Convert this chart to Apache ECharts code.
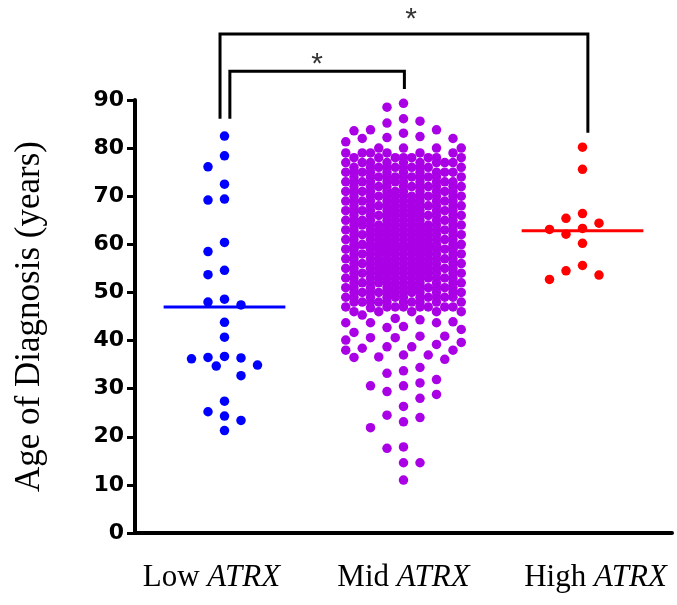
<!DOCTYPE html>
<html>
<head>
<meta charset="utf-8">
<title>Age of Diagnosis by ATRX level</title>
<script src="https://cdn.jsdelivr.net/npm/echarts@6/dist/echarts.min.js"></script>
<style>
html, body { margin: 0; padding: 0; background: #fff; }
#graph { width: 677px; height: 605px; }
</style>
</head>
<body>
<div id="graph"></div>
<script>
// groups on the x axis
const groups = ['Low', 'Mid', 'High'];
const groupColors = ['#0000ff', '#aa00e6', '#ff0000'];

// age of diagnosis (years)
const lowAges = [82.5, 78.4, 76.1, 72.5, 69.4, 69.2, 60.4, 58.5, 54.6, 53.7, 48.6, 48.0, 47.4,
  43.8, 40.7, 36.7, 36.5, 36.4, 36.2, 34.9, 34.7, 32.7, 27.4, 25.2, 24.3, 23.4, 21.3];
const highAges = [80.2, 75.6, 66.4, 65.4, 64.4, 63.3, 63.1, 62.1, 60.2, 55.6, 54.5, 53.6, 52.7];
// mid group, points that can be told apart (top and bottom of the cloud)
const midSparseAges = [89.3, 88.5, 86.1, 85.6, 85.2, 83.8, 83.8, 83.6, 83.1, 82.4, 82.2, 82.0, 82.0, 81.3,
  46.8, 45.3, 44.6, 44.3, 43.9, 43.7, 43.7, 43.7, 42.9, 42.7, 42.3, 41.7, 40.9, 40.9, 40.6, 40.6, 40.1,
  39.6, 39.2, 38.7, 38.7, 38.4, 38.0, 38.0, 37.0, 37.0, 36.6, 36.5, 36.1, 34.4, 33.7, 33.2, 31.9, 31.2,
  30.6, 30.6, 29.4, 28.8, 28.0, 26.3, 24.5, 24.0, 23.1, 21.9, 17.9, 17.6, 14.6, 14.6, 11.0];
// mid group, the solid block: number of patients per year of age
const midBlockAges = [46, 47, 48, 49, 50, 51, 52, 53, 54, 55, 56, 57, 58, 59, 60, 61, 62, 63,
  64, 65, 66, 67, 68, 69, 70, 71, 72, 73, 74, 75, 76, 77, 78, 79, 80];
const midBlockCounts = [5, 8, 10, 11, 12, 12, 12, 13, 13, 13, 13, 13, 13, 13, 13, 13, 13, 13,
  13, 12, 12, 12, 12, 12, 12, 11, 11, 11, 11, 10, 10, 9, 8, 6, 4];

// median lines as drawn in the figure
const medians = [47.0, 59.4, 62.8];

// significance brackets
const sigPairs = [[0, 1], [0, 2]];
const sigTops = [96.0, 103.7];
const sigStarY = [97.3, 106.6];
const sigStars = ['*', '*'];

const yMin = 0, yMax = 90, yStep = 10;

const grid = {left: 135, right: 5, top: 100, bottom: 72};

let midAges = midSparseAges.slice();
for (let i = 0; i < midBlockAges.length; i++) {
  for (let k = 0; k < midBlockCounts[i]; k++) midAges.push(midBlockAges[i]);
}
const groupAges = [lowAges, midAges, highAges];

var mychart = echarts.init(document.getElementById('graph'));
const bandPx = (mychart.getWidth() - grid.left - grid.right) / groups.length;
const yearPx = (mychart.getHeight() - grid.top - grid.bottom) / (yMax - yMin);
const slotPx = 16.5;     // distance between dot columns
const minDist = 14;      // dots closer than this (px) count as crowded

// simple beeswarm: from the top down, put each dot in the nearest free column
function swarm(values, maxSlot) {
  let tiers = [[0]];
  for (let s = 1; s <= maxSlot; s++) tiers.push([-s, s]);
  for (let s = 0.5; s <= maxSlot; s += 1) tiers.push([-s, s]);
  let all = [].concat(...tiers);
  let placed = [];
  let slots = new Array(values.length);
  let order = values.map((v, i) => i).sort((a, b) => values[b] - values[a]);
  function room(slot, v) {
    let best = Infinity;
    for (let p of placed) {
      let dx = (p[0] - slot) * slotPx, dy = (p[1] - v) * yearPx;
      let d = Math.sqrt(dx * dx + dy * dy);
      if (d < best) best = d;
    }
    return best;
  }
  for (let i of order) {
    let v = values[i], chosen = null;
    for (let t of tiers) {
      let bestSlot = null, bestRoom = -1;
      for (let s of t) {
        let r = room(s, v);
        if (r >= minDist && r > bestRoom) { bestRoom = r; bestSlot = s; }
      }
      if (bestSlot !== null) { chosen = bestSlot; break; }
    }
    if (chosen === null) {
      // no free place left, take the least crowded one
      let bestRoom = -1;
      for (let s of all) {
        let r = room(s, v);
        if (r > bestRoom) { bestRoom = r; chosen = s; }
      }
    }
    slots[i] = chosen;
    placed.push([chosen, v]);
  }
  return slots;
}

let series = [];
groupAges.forEach(function (ages, g) {
  let slots = swarm(ages, g === 1 ? 3.5 : 2);
  series.push({
    type: 'scatter',
    xAxisIndex: 1,
    symbolSize: 9.5,
    itemStyle: {color: groupColors[g], opacity: 1},
    data: ages.map((v, i) => [g + 0.5 + slots[i] * slotPx / bandPx, v]),
    z: 2
  });
});

// median lines
medians.forEach(function (m, g) {
  series.push({
    type: 'line',
    xAxisIndex: 1,
    showSymbol: false,
    symbol: 'none',
    lineStyle: {color: groupColors[g], width: 3},
    data: [[g + 0.5 - 0.34, m], [g + 0.5 + 0.34, m]],
    z: 5
  });
});

// brackets and stars
sigPairs.forEach(function (pair, k) {
  let a = pair[0], b = pair[1];
  let xa = a + 0.5 + (k === 0 ? 0.03 : -0.025);
  let xb = b + 0.5 + (k === 0 ? 0.005 : 0.03);
  let ya = Math.max(...groupAges[a]) + 3.6;
  let yb = Math.max(...groupAges[b]) + 3.0;
  series.push({
    type: 'line',
    xAxisIndex: 1,
    symbol: 'none',
    clip: false,
    lineStyle: {color: '#000', width: 3, join: 'miter'},
    data: [[xa, ya], [xa, sigTops[k]], [xb, sigTops[k]], [xb, yb]],
    z: 4
  });
  series.push({
    type: 'scatter',
    xAxisIndex: 1,
    clip: false,
    symbolSize: 1,
    itemStyle: {color: 'rgba(0,0,0,0)'},
    label: {
      show: true,
      position: 'inside',
      formatter: sigStars[k],
      color: '#000',
      fontFamily: 'Liberation Sans',
      fontSize: 30
    },
    data: [[(xa + xb) / 2 + (k === 1 ? 0.04 : 0), sigStarY[k]]],
    z: 4
  });
});

mychart.setOption({
  backgroundColor: '#fff',
  animation: false,
  grid: grid,
  xAxis: [{
    type: 'category',
    data: groups,
    axisLine: {lineStyle: {color: '#000', width: 4}},
    axisTick: {alignWithLabel: true, length: 11, lineStyle: {color: '#000', width: 3}},
    axisLabel: {
      margin: 29,
      // outer labels sit a little away from their ticks, as in the figure
      formatter: function (v, idx) {
        let text = '{n|' + v + ' }{i|ATRX}';
        if (idx === 0) return text + '{sp| }';
        if (idx === groups.length - 1) return '{sp| }' + text;
        return text;
      },
      rich: {
        n: {fontFamily: 'Liberation Serif', fontSize: 31, color: '#000'},
        i: {fontFamily: 'Liberation Serif', fontSize: 31, fontStyle: 'italic', color: '#000'},
        sp: {width: 26, fontSize: 31}
      }
    },
    splitLine: {show: false}
  }, {
    type: 'value',
    min: 0,
    max: groups.length,
    show: false
  }],
  yAxis: {
    type: 'value',
    min: yMin,
    max: yMax,
    interval: yStep,
    name: 'Age of Diagnosis (years)',
    nameLocation: 'middle',
    nameGap: 88,
    nameTextStyle: {fontFamily: 'Liberation Serif', fontSize: 35, color: '#000'},
    axisLine: {show: true, lineStyle: {color: '#000', width: 4}},
    axisTick: {show: true, length: 8, lineStyle: {color: '#000', width: 3}},
    axisLabel: {
      margin: 11,
      fontFamily: 'DejaVu Sans',
      fontWeight: 'bold',
      fontSize: 22,
      color: '#000'
    },
    splitLine: {show: false}
  },
  series: series
});
</script>
</body>
</html>
